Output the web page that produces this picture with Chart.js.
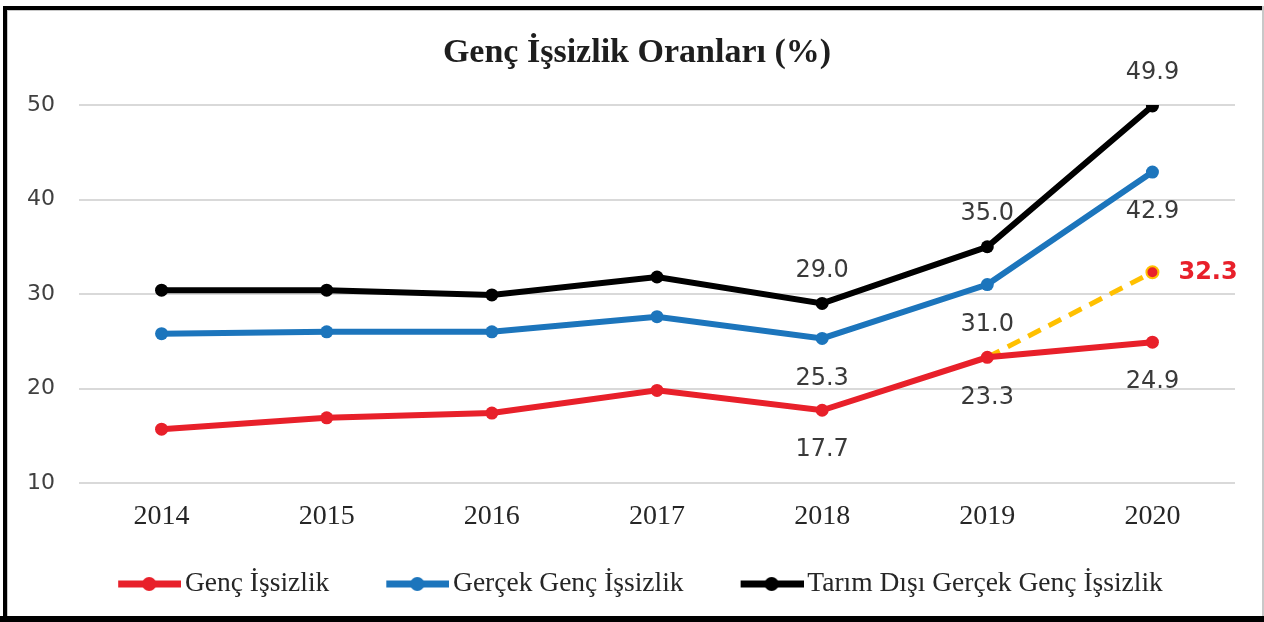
<!DOCTYPE html>
<html>
<head>
<meta charset="utf-8">
<script src="https://cdn.jsdelivr.net/npm/chart.js@4"></script>
<style>
  html, body { margin: 0; padding: 0; background: #fff; }
  #wrap { width: 1264px; height: 622px; }
</style>
</head>
<body>
<div id="wrap"><canvas id="myChart"></canvas></div>
<script>
// data
const years = ['2014', '2015', '2016', '2017', '2018', '2019', '2020']
const gencIssizlik = [15.7, 16.9, 17.4, 19.8, 17.7, 23.3, 24.9]
const gercekGenc = [25.8, 26.0, 26.0, 27.6, 25.3, 31.0, 42.9]
const tarimDisi = [30.4, 30.4, 29.9, 31.8, 29.0, 35.0, 49.9]
const tahmin = [null, null, null, null, null, 23.3, 32.3]
const yTicks = [10, 20, 30, 40, 50]
const labelYears = [4, 5, 6] // which points carry a value label

const RED = '#e8202a'
const BLUE = '#1c75bc'
const BLACK = '#000000'
const YELLOW = '#ffc000'

// legend mark : line with a dot, drawn on a small canvas
function legendMark(color) {
  const c = document.createElement('canvas')
  c.width = 116
  c.height = 18
  const g = c.getContext('2d')
  g.strokeStyle = color
  g.lineWidth = 7
  g.beginPath()
  g.moveTo(53, 9)
  g.lineTo(116, 9)
  g.stroke()
  g.fillStyle = color
  g.beginPath()
  g.arc(84, 9, 7, 0, Math.PI * 2)
  g.fill()
  return c
}
const marks = [legendMark(RED), legendMark(BLUE), legendMark(BLACK)]

// frame round the picture
const frame = {
  id: 'frame',
  beforeDraw(chart) {
    const ctx = chart.ctx
    ctx.save()
    ctx.fillStyle = '#fff'
    ctx.fillRect(0, 0, chart.width, chart.height)
    ctx.fillStyle = '#000'
    ctx.fillRect(3, 6, 4, 612)
    ctx.fillRect(3, 6, 1260, 4)
    ctx.fillRect(0, 616, chart.width, 6)
    ctx.fillStyle = '#c8c8c8'
    ctx.fillRect(1262, 6, 2, 610)
    ctx.fillRect(7, 10, 1, 606)
    ctx.fillRect(7, 10, 1255, 1)
    ctx.restore()
  }
}

// title and legend are centred a bit right of the plot, like in the picture
const shiftBoxes = {
  id: 'shiftBoxes',
  afterLayout(chart) {
    chart.titleBlock.left = 39
    chart.legend.left = 3
  }
}

// value labels
const valueLabels = {
  id: 'valueLabels',
  afterDatasetsDraw(chart) {
    const ctx = chart.ctx
    ctx.save()
    ctx.textBaseline = 'middle'
    chart.data.datasets.forEach((ds, i) => {
      if (!ds.labelAt) return
      const meta = chart.getDatasetMeta(i)
      ds.labelAt.forEach(j => {
        const p = meta.data[j]
        if (ds.labelBold) {
          ctx.font = 'bold 24px "DejaVu Sans"'
          ctx.fillStyle = RED
          ctx.textAlign = 'left'
          ctx.fillText(ds.data[j].toFixed(1), p.x + 26, p.y + 1)
        } else {
          ctx.font = '24px "DejaVu Sans"'
          ctx.fillStyle = '#3a3a3a'
          ctx.textAlign = 'center'
          ctx.fillText(ds.data[j].toFixed(1), p.x, p.y + ds.labelOffset)
        }
      })
    })
    ctx.restore()
  }
}

const data = {
  labels: years,
  datasets: [{
    label: 'Genç İşsizlik',
    data: gencIssizlik,
    borderColor: RED,
    backgroundColor: RED,
    borderWidth: 6,
    pointRadius: 6.5,
    pointBorderWidth: 0,
    labelAt: labelYears,
    labelOffset: 40
  }, {
    label: 'Gerçek Genç İşsizlik',
    data: gercekGenc,
    borderColor: BLUE,
    backgroundColor: BLUE,
    borderWidth: 6,
    pointRadius: 6.5,
    pointBorderWidth: 0,
    labelAt: labelYears,
    labelOffset: 40
  }, {
    label: 'Tarım Dışı Gerçek Genç İşsizlik',
    data: tarimDisi,
    borderColor: BLACK,
    backgroundColor: BLACK,
    borderWidth: 6,
    pointRadius: 6.5,
    pointBorderWidth: 0,
    labelAt: labelYears,
    labelOffset: -33
  }, {
    label: 'tahmin',
    data: tahmin,
    borderColor: YELLOW,
    backgroundColor: RED,
    borderWidth: 5,
    borderDash: [14, 9],
    pointRadius: [0, 0, 0, 0, 0, 0, 6],
    pointBackgroundColor: RED,
    pointBorderColor: YELLOW,
    pointBorderWidth: 2,
    labelAt: [6],
    labelBold: true
  }]
}

const config = {
  type: 'line',
  data: data,
  options: {
    responsive: true,
    maintainAspectRatio: false,
    animation: false,
    layout: { padding: { left: 0, right: 29, top: 0, bottom: 14.25 } },
    scales: {
      x: {
        offset: true,
        grid: { display: false, drawTicks: false },
        border: { display: false },
        ticks: { padding: 17, color: '#262626', font: { family: '"Liberation Serif"', size: 28 } },
        afterFit: s => { s.height = 73.25 }
      },
      y: {
        min: 10,
        max: 50,
        afterBuildTicks: s => { s.ticks = yTicks.map(v => ({ value: v })) },
        grid: { color: '#d9d9d9', lineWidth: 2, drawTicks: false },
        border: { display: false },
        ticks: { padding: 24, color: '#404040', font: { family: '"DejaVu Sans"', size: 22 } },
        afterFit: s => { s.width = 79 }
      }
    },
    plugins: {
      title: {
        display: true,
        text: 'Genç İşsizlik Oranları (%)',
        color: '#1e1e1e',
        font: { family: '"Liberation Serif"', size: 34, weight: 'bold' },
        padding: { top: 32.6, bottom: 31.6 }
      },
      legend: {
        position: 'bottom',
        labels: {
          usePointStyle: true,
          pointStyleWidth: 96,
          boxHeight: 18,
          padding: 14,
          color: '#262626',
          font: { family: '"Liberation Serif"', size: 27.5 },
          generateLabels(chart) {
            const items = Chart.defaults.plugins.legend.labels.generateLabels(chart)
            return items.filter(it => it.datasetIndex < 3).map(it => Object.assign(it, { pointStyle: marks[it.datasetIndex] }))
          }
        }
      },
      tooltip: { enabled: false }
    }
  },
  plugins: [frame, shiftBoxes, valueLabels]
}

const ctx = document.getElementById('myChart')
var Lines = new Chart(ctx, config)
</script>
</body>
</html>
